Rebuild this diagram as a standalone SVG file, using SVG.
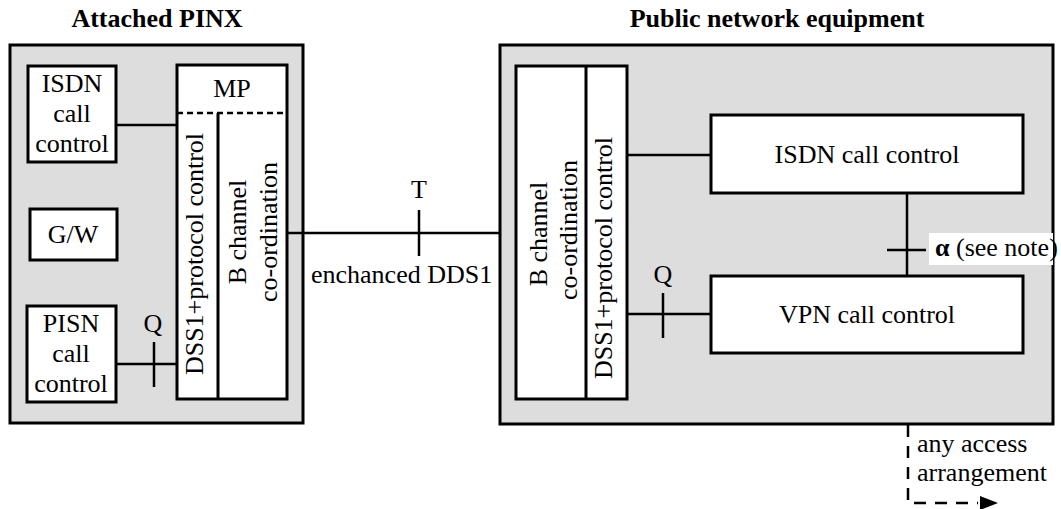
<svg xmlns="http://www.w3.org/2000/svg" width="1061" height="509" viewBox="0 0 1061 509" font-family="'Liberation Serif', 'Times New Roman', Times, serif" font-size="26">
<style>
text{font-family:'Liberation Serif','Times New Roman',Times,serif;font-size:26px;fill:#000}
.t{font-weight:bold}
.m{text-anchor:middle}
.outer{fill:#dddddd;stroke:#000;stroke-width:3}
.box{fill:#fff;stroke:#000;stroke-width:3}
.ln{stroke:#000;stroke-width:2.5;fill:none}
.dash{stroke:#000;stroke-width:2.5;fill:none;stroke-dasharray:6 4}
.dash2{stroke:#000;stroke-width:2.5;fill:none;stroke-dasharray:12 9}
</style>
<text class="t m" x="157" y="27">Attached PINX</text>
<text class="t m" x="777" y="27">Public network equipment</text>
<g id="attached-pinx"><rect class="outer" x="10" y="45" width="293" height="378"/></g>
<g id="public-network"><rect class="outer" x="500" y="45" width="553" height="379"/></g>
<g id="connectors">
<line class="ln" x1="116" y1="125" x2="177" y2="125"/>
<line class="ln" x1="116" y1="364" x2="177" y2="364"/>
<line class="ln" x1="154" y1="342" x2="154" y2="387"/>
<line class="ln" x1="287" y1="233" x2="500" y2="233"/>
<line class="ln" x1="419" y1="210" x2="419" y2="256"/>
<line class="ln" x1="627" y1="155" x2="711" y2="155"/>
<line class="ln" x1="627" y1="314" x2="711" y2="314"/>
<line class="ln" x1="663" y1="293" x2="663" y2="338"/>
<line class="ln" x1="907" y1="193" x2="907" y2="276"/>
<line class="ln" x1="887" y1="250" x2="926" y2="250"/>
<path class="dash2" d="M908 425 V503 H978"/>
<polygon points="980,496 998,503 980,510" fill="#000"/>
</g>
<g id="isdn-cc-left"><rect class="box" x="28" y="66" width="88" height="96"/>
<text class="m" x="72" y="92">ISDN</text><text class="m" x="72" y="122">call</text><text class="m" x="72" y="152">control</text></g>
<g id="gw"><rect class="box" x="30" y="209" width="87" height="51"/><text class="m" x="73" y="243">G/W</text></g>
<g id="pisn-cc"><rect class="box" x="27" y="306" width="89" height="96"/>
<text class="m" x="71" y="332">PISN</text><text class="m" x="71" y="362">call</text><text class="m" x="71" y="392">control</text></g>
<g id="mp-stack"><rect class="box" x="177" y="65" width="110" height="334"/>
<line class="dash" x1="177" y1="113" x2="287" y2="113"/>
<line class="ln" x1="218" y1="113" x2="218" y2="399" style="stroke-width:3"/>
<text class="m" x="232" y="97">MP</text>
<text class="m" transform="translate(203 254) rotate(-90)">DSS1+protocol control</text>
<text class="m" transform="translate(246 232) rotate(-90)">B channel</text>
<text class="m" transform="translate(277 232) rotate(-90)">co-ordination</text></g>
<g id="pne-stack"><rect class="box" x="516" y="66" width="111" height="333"/>
<line class="ln" x1="586" y1="66" x2="586" y2="399" style="stroke-width:3"/>
<text class="m" transform="translate(547 234) rotate(-90)">B channel</text>
<text class="m" transform="translate(577 230) rotate(-90)">co-ordination</text>
<text class="m" transform="translate(612 258) rotate(-90)">DSS1+protocol control</text></g>
<g id="isdn-cc-right"><rect class="box" x="711" y="115" width="312" height="78"/><text class="m" x="867" y="163">ISDN call control</text></g>
<g id="vpn-cc"><rect class="box" x="711" y="276" width="312" height="77"/><text class="m" x="867" y="323">VPN call control</text></g>
<g id="labels">
<text class="m" x="419" y="198">T</text>
<text x="311" y="283">enchanced DDS1</text>
<text class="m" x="153" y="332">Q</text>
<text class="m" x="663" y="283">Q</text>
<rect x="929" y="233" width="124" height="32" fill="#fff"/>
<text x="935" y="256"><tspan font-weight="bold">α</tspan> (see note)</text>
<text x="917" y="452">any access</text>
<text x="917" y="481">arrangement</text>
</g>
</svg>
